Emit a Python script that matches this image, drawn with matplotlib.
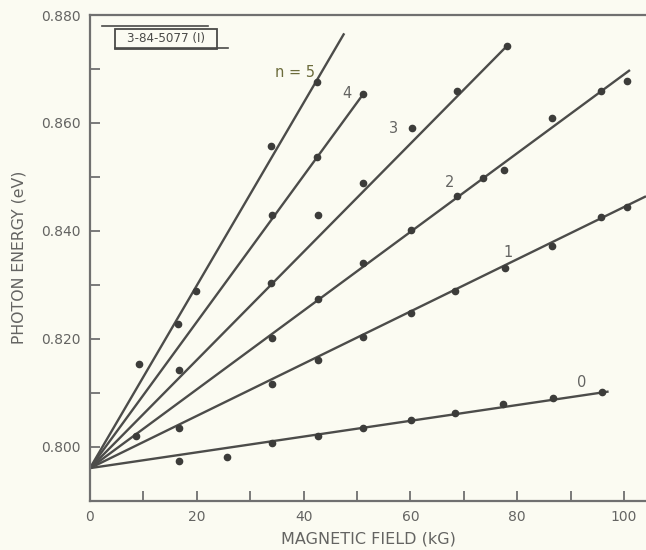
import matplotlib.pyplot as plt
from matplotlib.patches import Rectangle
from matplotlib.ticker import MultipleLocator, FormatStrFormatter

# ─────────────────────────────────────────────
# DATA: photon energy (eV) vs magnetic field (kG)
# ─────────────────────────────────────────────
levels = [0, 1, 2, 3, 4, 5]
level_labels = ["0", "1", "2", "3", "4", "n = 5"]

intercept = 0.7960                      # common zero-field energy
fit_end_B = [97.1, 104.1, 101.1, 78.0, 51.2, 47.6]
fit_end_E = [0.8102, 0.8464, 0.8698, 0.8742, 0.8654, 0.8766]

B0 = [16.7, 25.6, 34.0, 42.75, 51.2, 60.1, 68.4, 77.4, 86.6, 95.9]
E0 = [0.7973, 0.7981, 0.8006, 0.8019, 0.8035, 0.8050, 0.8063, 0.8078, 0.8090, 0.8102]

B1 = [16.7, 34.0, 42.6, 51.2, 60.1, 68.4, 77.7, 86.5, 95.6, 100.6]
E1 = [0.8035, 0.8116, 0.8161, 0.8204, 0.8247, 0.8288, 0.8331, 0.8371, 0.8425, 0.8445]

B2 = [8.7, 34.0, 42.6, 51.2, 60.1, 68.7, 73.6, 77.5, 86.5, 95.6, 100.6]
E2 = [0.8020, 0.8201, 0.8274, 0.8341, 0.8402, 0.8465, 0.8498, 0.8512, 0.8610, 0.8660, 0.8677]

B3 = [16.7, 33.8, 42.6, 51.2, 60.2, 68.7, 78.0]
E3 = [0.8142, 0.8304, 0.8430, 0.8489, 0.8591, 0.8660, 0.8742]

B4 = [34.0, 42.55, 51.2]
E4 = [0.8430, 0.8536, 0.8654]

B5 = [9.2, 16.5, 19.85, 33.9, 42.55]
E5 = [0.8153, 0.8228, 0.8289, 0.8558, 0.8675]

label_B = [92.1, 78.3, 67.3, 56.9, 48.1, 38.4]
label_E = [0.8118, 0.8360, 0.8489, 0.8589, 0.8654, 0.8693]

# ─────────────────────────────────────────────
# STYLE
# ─────────────────────────────────────────────
bg = "#fbfbf2"
ink = "#4c4c4a"
text_col = "#646462"
olive = "#6c6c3c"

fig = plt.figure(figsize=(6.46, 5.5), dpi=100, facecolor=bg)
ax = fig.add_axes([0.1393, 0.09, 1 - 0.1393, 0.8827], facecolor=bg)

# ── fitted lines ──
for n in levels:
    ax.plot([0, fit_end_B[n]], [intercept, fit_end_E[n]],
            color=ink, linewidth=1.7, solid_capstyle="butt", zorder=2)

# ── measured points ──
for B, E in [(B0, E0), (B1, E1), (B2, E2), (B3, E3), (B4, E4), (B5, E5)]:
    ax.plot(B, E, "o", color="#3c3c3a", markersize=4.5, zorder=3)

# ── level labels ──
for n in levels:
    ax.text(label_B[n], label_E[n], level_labels[n], ha="center", va="center",
            fontsize=10.5, color=olive if n == 5 else text_col)

# ── axes ──
ax.set_xlim(0, 104.1)
ax.set_ylim(0.790, 0.880)
ax.xaxis.set_major_locator(MultipleLocator(20))
ax.xaxis.set_minor_locator(MultipleLocator(10))
ax.yaxis.set_major_locator(MultipleLocator(0.02))
ax.yaxis.set_minor_locator(MultipleLocator(0.01))
ax.yaxis.set_major_formatter(FormatStrFormatter("%.3f"))
ax.tick_params(which="both", direction="in", length=7, width=1.3,
               color="#707070", labelcolor=text_col, labelsize=10)
ax.tick_params(axis="x", which="major", pad=7)
ax.tick_params(axis="y", which="major", pad=7)
for side in ["left", "bottom", "top"]:
    ax.spines[side].set_color("#707070")
    ax.spines[side].set_linewidth(1.6)
ax.spines["right"].set_visible(False)

ax.set_xlabel("MAGNETIC FIELD (kG)", fontsize=11.5, color=text_col, labelpad=5)
ax.set_ylabel("PHOTON ENERGY (eV)", fontsize=11.3, color=text_col, labelpad=10)

# ── figure id box ──
box_col = "#4a4a48"
ax.add_patch(Rectangle((0.045, 0.931), 0.183, 0.041, transform=ax.transAxes,
                       fill=False, ec=box_col, lw=1.3, clip_on=False))
ax.text(0.1365, 0.9515, "3-84-5077 (I)", transform=ax.transAxes,
        fontsize=9.5, color=box_col, ha="center", va="center",
        fontstretch="condensed")
ax.plot([0.0216, 0.212], [0.9784, 0.9784], transform=ax.transAxes,
        color=box_col, lw=1.2, clip_on=False)
ax.plot([0.045, 0.248], [0.933, 0.933], transform=ax.transAxes,
        color=box_col, lw=1.2, clip_on=False)

plt.savefig("out.png", dpi=100, facecolor=bg)
